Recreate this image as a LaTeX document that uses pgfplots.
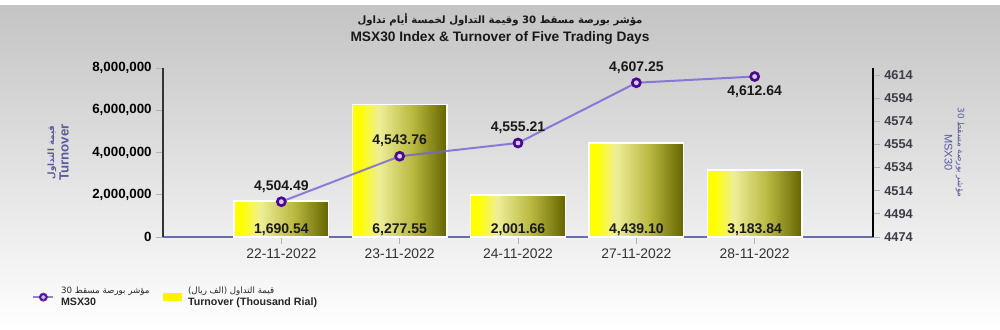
\documentclass[border=0pt]{standalone}
\usepackage{fontspec}
\setmainfont{Liberation Sans}
\newfontfamily\arabicfont[Script=Arabic]{DejaVu Sans}
\usepackage{pgfplots}
\pgfplotsset{compat=1.18}
\TeXXeTstate=1
\definecolor{bgtop}{HTML}{C4C4C4}
\definecolor{barA}{HTML}{FFFF00}
\definecolor{barB}{HTML}{EEEE98}
\definecolor{barC}{HTML}{B8B840}
\definecolor{barD}{HTML}{646400}
\definecolor{lineblue}{HTML}{7462D6}
\definecolor{markc}{HTML}{4A0A8C}
\definecolor{markin}{HTML}{D8C8F8}
\definecolor{labpurple}{HTML}{5A5A9E}
\definecolor{xaxis}{HTML}{6C6CB0}
\definecolor{rtick}{HTML}{3C3C46}
\pgfdeclarehorizontalshading{barshade}{100bp}{color(0bp)=(barA); color(25bp)=(barA); color(29bp)=(barA); color(39bp)=(barB); color(57bp)=(barC); color(75bp)=(barD); color(100bp)=(barD)}
\pgfplotsset{
  barstyle/.style={ybar, bar width=0.8, bar shift=0pt, draw=white, line width=1.2pt, shading=barshade, shading angle=0},
}
\begin{document}
\begin{tikzpicture}
\begin{scope}[shift={(-122.25pt,-69pt)}, x=0.75pt, y=0.75pt]
\fill[white] (0,0) rectangle (1000,329);
\shade[top color=bgtop, bottom color=white] (0,0) rectangle (1000,323);
\node[font=\arabicfont\bfseries\fontsize{7.6}{9}\selectfont, text=black!90] at (500,309) {\beginR مؤشر بورصة مسقط \beginL 30\endL{} وقيمة التداول لخمسة أيام تداول\endR};
\node[font=\bfseries\fontsize{10.3}{12}\selectfont, text=black!90] at (500,291) {MSX30 Index \& Turnover of Five Trading Days};
\end{scope}

\begin{axis}[
  at={(0pt,0pt)}, anchor=south west, scale only axis,
  width=532.5pt, height=126.75pt,
  xmin=-1, xmax=5, ymin=0, ymax=8000000,
  axis x line*=bottom, axis y line*=left,
  clip=false,
  xtick={0,1,2,3,4},
  xticklabels={22-11-2022,23-11-2022,24-11-2022,27-11-2022,28-11-2022},
  ytick={0,2000000,4000000,6000000,8000000},
  scaled y ticks=false,
  /pgf/number format/assume math mode=true,
  /pgf/number format/fixed,
  /pgf/number format/1000 sep={,},
  ticklabel style={font=\bfseries\fontsize{10}{12}\selectfont},
  x tick label style={text=black!80, font=\fontsize{10.4}{12}\selectfont},
  tick align=outside, major tick length=5pt,
  tick style={draw=gray!60, line width=0.6pt},
  x axis line style={draw=xaxis, line width=1.5pt, -},
  y axis line style={draw=black!80, line width=0.8pt, -},
  ylabel={{\arabicfont\fontsize{6.5}{8}\selectfont\beginR قيمة التداول\endR}\\Turnover},
  ylabel style={at={(axis description cs:-0.126,0.5)}, anchor=south, align=center, font=\bfseries\fontsize{10}{11}\selectfont, text=labpurple},
]
\addplot[barstyle] coordinates {(0,1690540)};
\addplot[barstyle] coordinates {(1,6277550)};
\addplot[barstyle] coordinates {(2,2001660)};
\addplot[barstyle] coordinates {(3,4439100)};
\addplot[barstyle] coordinates {(4,3183840)};
\addplot[draw=none, mark=none, nodes near coords, point meta=explicit symbolic,
  nodes near coords style={anchor=south, inner sep=1pt, font=\bfseries\fontsize{10.5}{12}\selectfont, text=black!90}]
  coordinates {(0,0) [{1,690.54}] (1,0) [{6,277.55}] (2,0) [{2,001.66}] (3,0) [{4,439.10}] (4,0) [{3,183.84}]};
\end{axis}

\begin{axis}[
  at={(0pt,0pt)}, anchor=south west, scale only axis,
  width=532.5pt, height=126.75pt,
  xmin=-1, xmax=5, ymin=4474, ymax=4620,
  hide x axis, axis y line*=right,
  clip=false,
  ytick={4474,4494,4514,4534,4554,4574,4594,4614},
  /pgf/number format/assume math mode=true,
  /pgf/number format/1000 sep={},
  ticklabel style={font=\bfseries\fontsize{9.6}{12}\selectfont, text=rtick},
  tick align=outside, major tick length=5pt,
  tick style={draw=gray!60, line width=0.6pt},
  y axis line style={draw=black, line width=0.8pt, -},
  ylabel={{\arabicfont\fontsize{6.6}{8}\selectfont\beginR مؤشر بورصة مسقط \beginL 30\endL\endR}\\MSX30},
  ylabel style={at={(axis description cs:1.094,0.5)}, anchor=south, rotate=180, align=center, font=\fontsize{8.3}{10}\selectfont, text=labpurple},
  legend columns=2,
  legend style={at={(axis description cs:-0.19,-0.26)}, anchor=north west, draw=none, fill=none,
    font=\bfseries\fontsize{8}{9.5}\selectfont, text=black!85, cells={align=left},
    /tikz/every odd column/.append style={column sep=3pt},
    /tikz/every even column/.append style={column sep=8pt}},
]
\addplot[color=lineblue, draw opacity=0.8, line width=1.5pt, mark=*, mark size=3pt,
  mark options={draw=markc, fill=markin, line width=2pt, draw opacity=1},
  legend image code/.code={\draw[lineblue, line width=1.5pt] (0pt,0pt) -- (15pt,0pt);
     \fill[markc] (7.5pt,0pt) circle (2.6pt); \fill[markin] (7.5pt,0pt) circle (0.8pt);}]
  coordinates {(0,4504.49) (1,4543.76) (2,4555.21) (3,4607.25) (4,4612.64)};
\addlegendentry{{\arabicfont\mdseries\fontsize{6.5}{8}\selectfont\beginR مؤشر بورصة مسقط \beginL 30\endL\endR}\\MSX30}
\addlegendimage{legend image code/.code={\fill[yellow] (0pt,-2.6pt) rectangle (13.5pt,2.6pt);}}
\addlegendentry{{\arabicfont\mdseries\fontsize{6.5}{8}\selectfont\beginR قيمة التداول (الف ريال)\endR}\\Turnover (Thousand Rial)}
\addplot[draw=none, mark=none, forget plot, nodes near coords, point meta=explicit symbolic,
  nodes near coords style={anchor=south, yshift=3.5pt, font=\bfseries\fontsize{10.5}{12}\selectfont, text=black!90}]
  coordinates {(0,4504.49) [{4,504.49}] (1,4543.76) [{4,543.76}] (2,4555.21) [{4,555.21}] (3,4607.25) [{4,607.25}]};
\addplot[draw=none, mark=none, forget plot, nodes near coords, point meta=explicit symbolic,
  nodes near coords style={anchor=north, yshift=-3pt, font=\bfseries\fontsize{10.5}{12}\selectfont, text=black!90}]
  coordinates {(4,4612.64) [{4,612.64}]};
\end{axis}
\pgfresetboundingbox
\begin{scope}[shift={(-122.25pt,-69pt)}, x=0.75pt, y=0.75pt]
\useasboundingbox (0,0) rectangle (1000,329);
\end{scope}
\end{tikzpicture}
\end{document}
